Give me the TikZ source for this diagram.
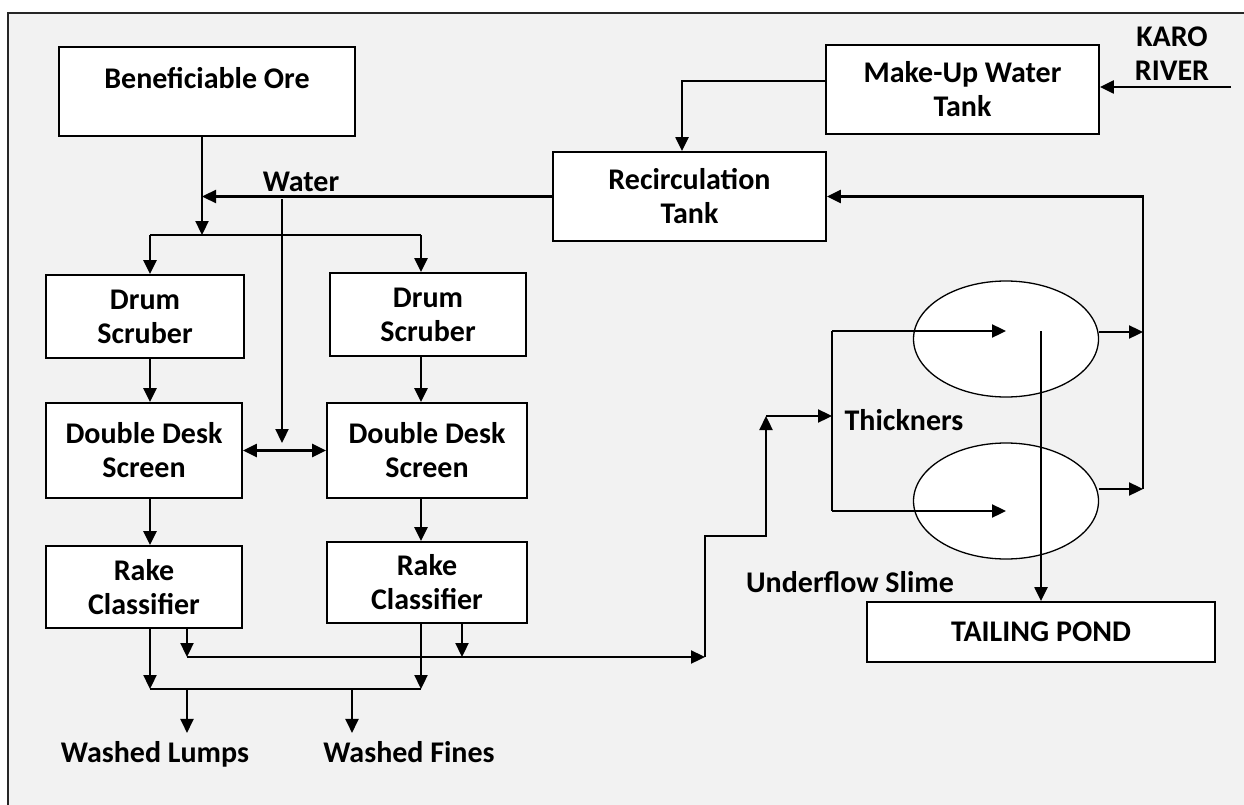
\documentclass[tikz,border=0pt]{standalone}
\usepackage{fontspec}
\setmainfont{Carlito}
\usetikzlibrary{arrows.meta,calc,shapes.geometric}
\definecolor{bg}{HTML}{F2F2F2}
\begin{document}
\begin{tikzpicture}[x=1pt,y=-1pt,
  font=\fontsize{30}{34}\selectfont\bfseries,
  box/.style={draw=black, line width=1.8pt, fill=white, align=center, inner sep=0pt},
  tk/.style={draw=black, line width=1.3pt, fill=white, ellipse, inner sep=0pt,
             minimum width=185pt, minimum height=116pt},
  conn/.style={line width=2.3pt},
  arr/.style={conn, -{Triangle[length=14pt,width=13pt]}},
  dbl/.style={conn, {Triangle[length=14pt,width=13pt]}-{Triangle[length=14pt,width=13pt]}},
  lbl/.style={inner sep=0pt, align=center}]
\useasboundingbox (0,0) rectangle (1244,805);
\clip (0,0) rectangle (1244,805);
\fill[white] (0,0) rectangle (1244,805);
\draw[fill=bg, line width=1.8pt, draw=black!85] (8,13) rectangle (1270,830);

% boxes
\node[box, minimum width=296pt, minimum height=89pt] (ore) at (207,91.5) {\raisebox{3pt}[0pt][0pt]{Beneficiable Ore}};
\node[box, minimum width=273pt, minimum height=89pt] (mk) at (962.5,89.5) {Make-Up Water\\Tank};
\node[box, minimum width=273pt, minimum height=89pt] (recirc) at (689.5,196.5) {Recirculation\\Tank};
\node[box, minimum width=198pt, minimum height=83pt] (drumL) at (145,316.5) {Drum\\Scruber};
\node[box, minimum width=196pt, minimum height=83pt] (drumR) at (428,314.5) {Drum\\Scruber};
\node[box, minimum width=196pt, minimum height=95pt] (ddsL) at (144,450.5) {Double Desk\\Screen};
\node[box, minimum width=200pt, minimum height=95pt] (ddsR) at (427,450.5) {Double Desk\\Screen};
\node[box, minimum width=196pt, minimum height=82pt] (rakeL) at (144,587) {Rake\\Classifier};
\node[box, minimum width=200pt, minimum height=81pt] (rakeR) at (427,582.5) {Rake\\Classifier};
\node[box, minimum width=348pt, minimum height=60pt] (tail) at (1041,632) {TAILING POND};
\node[tk] (thA) at (1006,339) {};
\node[tk] (thB) at (1006,501) {};

% labels
\node[lbl] (water) at (301,182) {Water};
\node[lbl] (karo) at (1172,54) {KARO\\RIVER};
\node[lbl] (thick) at (904,420) {Thickners};
\node[lbl] (under) at (850,582) {Underflow Slime};
\node[lbl, anchor=base, outer sep=8pt] (lumps) at (155,762) {Washed Lumps};
\node[lbl, anchor=base, outer sep=8pt] (fines) at (409,762) {Washed Fines};

% feed and water
\coordinate (jo) at (202,235);
\draw[arr] (ore.south -| jo) -- (jo);
\draw[arr] (recirc.west) -- (recirc.west -| jo);
\coordinate (sl) at (150,235);
\coordinate (sr) at (421,235);
\draw[conn] (sl) -- (sr);
\draw[arr] (sl) -- (sl |- drumL.north);
\draw[arr] (sr) -- (sr |- drumR.north);
\coordinate (wt) at (282,199);
\coordinate (wb) at (282,443);
\draw[arr] (wt) -- (wb);
\draw[dbl] (ddsL.east) -- (ddsR.west);
\draw[arr] (drumL.south -| sl) -- (ddsL.north -| sl);
\draw[arr] (drumR.south -| sr) -- (ddsR.north -| sr);
\draw[arr] (ddsL.south -| sl) -- (rakeL.north -| sl);
\draw[arr] (ddsR.south -| sr) -- (rakeR.north -| sr);

% products
\coordinate (a1) at (150,689);
\coordinate (a2) at (421,689);
\draw[arr] (rakeL.south -| a1) -- (a1);
\draw[arr] (rakeR.south -| a2) -- (a2);
\draw[conn] (a1) -- (a2);
\coordinate (b1) at (187,689);
\coordinate (b2) at (352,689);
\draw[arr] (b1) -- (b1 |- lumps.north);
\draw[arr] (b2) -- (b2 |- fines.north);

% slimes to thickeners
\coordinate (c1) at (187,657);
\coordinate (c2) at (462,657);
\draw[arr] (rakeL.south -| c1) -- (c1);
\draw[arr] (rakeR.south -| c2) -- (c2);
\coordinate (s0) at (705,657);
\coordinate (s1) at (766,416);
\coordinate (s2) at (832,416);
\draw[arr] (c1) -- (s0);
\draw[arr] (s0) -- ++(0,-121) -| (s1);
\draw[arr] (s1) -- (s2);
\coordinate (t1) at (832,331);
\coordinate (t2) at (832,511);
\draw[conn] (t1) -- (t2);
\draw[arr] (t1) -- (t1 -| thA.center);
\draw[arr] (t2) -- (t2 -| thB.center);

% underflow
\draw[arr] (tail.north |- t1) -- (tail.north);

% overflow back to recirculation
\coordinate (o1) at (1143,332);
\coordinate (o2) at (1143,489);
\draw[arr] (thA.east |- o1) -- (o1);
\draw[arr] (thB.east |- o2) -- (o2);
\draw[arr] (o2) -- (o2 |- recirc.east) -- (recirc.east);

% make-up water
\coordinate (m1) at (682,81);
\draw[arr] (mk.west |- m1) -- (m1) -- (m1 |- recirc.north);
\coordinate (rv) at (1231,87);
\draw[arr] (rv) -- (rv -| mk.east);
\end{tikzpicture}
\end{document}
